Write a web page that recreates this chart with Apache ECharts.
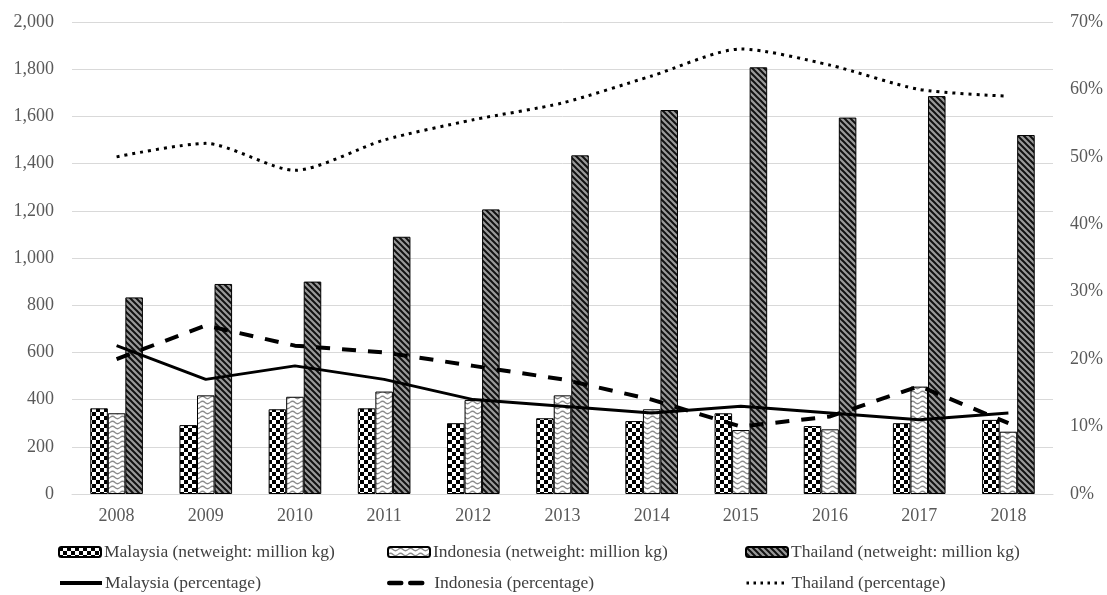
<!DOCTYPE html>
<html>
<head>
<meta charset="utf-8">
<script src="https://cdn.jsdelivr.net/npm/echarts@6/dist/echarts.min.js"></script>
<style>
  html, body { margin: 0; padding: 0; background: #fff; }
  #chart { width: 1107px; height: 595px; }
</style>
</head>
<body>
<div id="chart"></div>
<script>
// Years on the category axis
const years = ['2008', '2009', '2010', '2011', '2012', '2013', '2014', '2015', '2016', '2017', '2018'];

// Net weight (million kg)
const malaysiaWeight = [363, 292, 359, 363, 300, 321, 309, 342, 288, 300, 314];
const indonesiaWeight = [342, 418, 412, 434, 398, 418, 359, 271, 274, 455, 264];
const thailandWeight = [833, 890, 900, 1090, 1206, 1435, 1627, 1808, 1595, 1686, 1521];

// Share (percentage, as fractions)
const malaysiaShare = [0.22, 0.17, 0.19, 0.17, 0.14, 0.13, 0.12, 0.13, 0.12, 0.11, 0.12];
const indonesiaShare = [0.20, 0.25, 0.22, 0.21, 0.19, 0.17, 0.14, 0.10, 0.115, 0.16, 0.105];
const thailandShare = [0.50, 0.52, 0.48, 0.525, 0.555, 0.58, 0.62, 0.66, 0.636, 0.60, 0.59];

const leftTicks = { min: 0, max: 2000, interval: 200 };
const rightTicks = { min: 0, max: 0.7, interval: 0.1 };

const FONT = "'Liberation Serif', 'DejaVu Serif', serif";
const LABEL_COLOR = '#595959';

// Fill patterns for the bars
function makeCanvas(w, h, draw) {
  const c = document.createElement('canvas');
  c.width = w; c.height = h;
  const ctx = c.getContext('2d');
  ctx.fillStyle = '#fff';
  ctx.fillRect(0, 0, w, h);
  draw(ctx);
  return c;
}
const checker = makeCanvas(8, 8, ctx => {
  ctx.fillStyle = '#000';
  ctx.fillRect(0, 0, 4, 4);
  ctx.fillRect(4, 4, 4, 4);
});
const waves = makeCanvas(10, 5, ctx => {
  ctx.strokeStyle = '#8c8c8c';
  ctx.lineWidth = 1.2;
  ctx.beginPath();
  ctx.moveTo(0, 2.5);
  ctx.quadraticCurveTo(2.5, 0, 5, 2.5);
  ctx.quadraticCurveTo(7.5, 5, 10, 2.5);
  ctx.stroke();
});
const diagonal = makeCanvas(6, 6, ctx => {
  ctx.fillStyle = '#9a9a9a';
  ctx.fillRect(0, 0, 6, 6);
  ctx.strokeStyle = '#111';
  ctx.lineWidth = 2;
  ctx.beginPath();
  ctx.moveTo(-3, -3); ctx.lineTo(9, 9);
  ctx.moveTo(-3, 3); ctx.lineTo(3, 9);
  ctx.moveTo(3, -3); ctx.lineTo(9, 3);
  ctx.stroke();
});

const names = {
  mW: 'Malaysia (netweight: million kg)',
  iW: 'Indonesia (netweight: million kg)',
  tW: 'Thailand (netweight: million kg)',
  mS: 'Malaysia (percentage)',
  iS: 'Indonesia (percentage)',
  tS: 'Thailand (percentage)'
};

function barSeries(name, data, pattern) {
  return {
    name, type: 'bar', data,
    barGap: '0%', barCategoryGap: '41%',
    itemStyle: { color: { image: pattern, repeat: 'repeat' }, borderColor: '#000', borderWidth: 1 },
    emphasis: { disabled: true }
  };
}
function lineSeries(name, data, lineStyle, smooth) {
  return {
    name, type: 'line', yAxisIndex: 1, data,
    symbol: 'none', smooth: smooth || false, z: 5,
    lineStyle: Object.assign({ color: '#000' }, lineStyle),
    itemStyle: { color: '#000' },
    emphasis: { disabled: true }
  };
}

// One legend entry per slot: three columns, two rows
function legendEntry(name, left, top, lineStyle) {
  const item = { name };
  if (lineStyle) {
    item.itemStyle = { opacity: 0 };
    item.lineStyle = lineStyle;
  }
  return {
    left, top, itemWidth: 42, itemHeight: 10, padding: 0,
    selectedMode: false,
    data: [item],
    textStyle: { fontFamily: FONT, fontSize: 17.5, color: '#404040', padding: [0, 0, 0, -2] }
  };
}

const option = {
  animation: false,
  backgroundColor: '#fff',
  grid: { left: 72, right: 54, top: 22, bottom: 101, outerBoundsMode: 'none', containLabel: false },
  legend: [
    legendEntry(names.mW, 58, 543),
    legendEntry(names.iW, 387, 543),
    legendEntry(names.tW, 745, 543),
    legendEntry(names.mS, 58, 574, { width: 4, color: '#000', type: 'solid' }),
    legendEntry(names.iS, 387, 574, { width: 4.5, color: '#000', type: [12, 9], cap: 'round' }),
    legendEntry(names.tS, 745, 574, { width: 3, color: '#000', type: [2.5, 4.5] })
  ],
  xAxis: {
    type: 'category', data: years,
    axisLine: { lineStyle: { color: '#d9d9d9', width: 1 } },
    axisTick: { show: false },
    axisLabel: { fontFamily: FONT, fontSize: 18, color: LABEL_COLOR, margin: 13 }
  },
  yAxis: [
    {
      type: 'value', min: leftTicks.min, max: leftTicks.max, interval: leftTicks.interval,
      axisLine: { show: false }, axisTick: { show: false },
      splitLine: { lineStyle: { color: '#d9d9d9', width: 1 } },
      axisLabel: {
        fontFamily: FONT, fontSize: 18, color: LABEL_COLOR, margin: 18,
        formatter: v => v.toLocaleString('en-US')
      }
    },
    {
      type: 'value', min: rightTicks.min, max: rightTicks.max, interval: rightTicks.interval,
      axisLine: { show: false }, axisTick: { show: false }, splitLine: { show: false },
      axisLabel: {
        fontFamily: FONT, fontSize: 18, color: LABEL_COLOR, margin: 17,
        formatter: v => Math.round(v * 100) + '%'
      }
    }
  ],
  series: [
    barSeries(names.mW, malaysiaWeight, checker),
    barSeries(names.iW, indonesiaWeight, waves),
    barSeries(names.tW, thailandWeight, diagonal),
    lineSeries(names.mS, malaysiaShare, { width: 3, type: 'solid' }),
    lineSeries(names.iS, indonesiaShare, { width: 4, type: [14, 12] }),
    lineSeries(names.tS, thailandShare, { width: 3, type: [3, 5] }, 0.25)
  ]
};

echarts.init(document.getElementById('chart'), null, { renderer: 'canvas' }).setOption(option);
</script>
</body>
</html>
